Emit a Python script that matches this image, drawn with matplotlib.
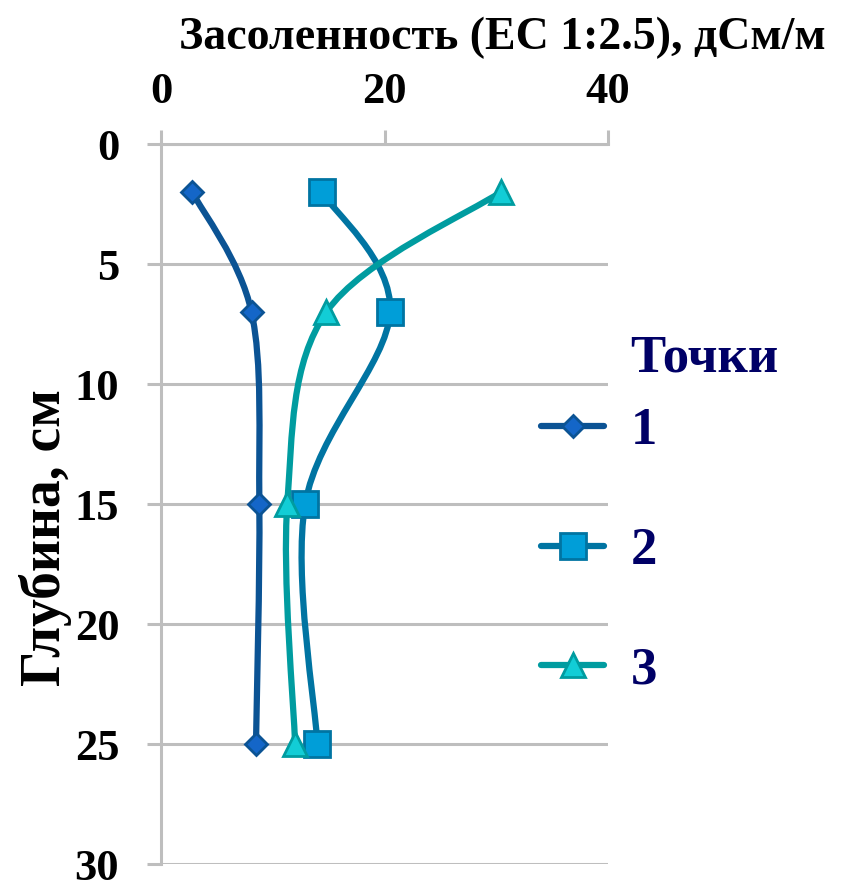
import numpy as np
import matplotlib
matplotlib.use("Agg")
import matplotlib.pyplot as plt
from matplotlib.path import Path
from matplotlib.patches import PathPatch
from matplotlib.lines import Line2D

# data
depth = [2, 7, 15, 25]
ec_1 = [2.8, 8.1, 8.8, 8.5]
ec_2 = [14.4, 20.5, 12.9, 14.0]
ec_3 = [30.4, 14.8, 11.3, 12.0]
labels = ["1", "2", "3"]

line_colors = ["#0B5394", "#0074A2", "#009CA0"]
face_colors = ["#1466C8", "#009ED8", "#12CDD6"]
markers = ["D", "s", "^"]
msizes = [11, 19, 17]

plt.rcParams['font.family'] = ['Liberation Serif', 'DejaVu Serif']
plt.rcParams['font.weight'] = 'bold'

grid_c = "#BEBEBE"
navy = "#000066"


def smooth_path(xs, ys):
    # excel-like smoothed line: cubic bezier through the points
    p = np.column_stack([xs, ys]).astype(float)
    n = len(p)
    verts = [p[0]]
    codes = [Path.MOVETO]
    for i in range(n - 1):
        p_prev = p[i - 1] if i > 0 else p[i]
        p_next = p[i + 2] if i + 2 < n else p[i + 1]
        c1 = p[i] + (p[i + 1] - p_prev) / 6.0
        c2 = p[i + 1] - (p_next - p[i]) / 6.0
        verts += [c1, c2, p[i + 1]]
        codes += [Path.CURVE4] * 3
    return Path(verts, codes)


fig = plt.figure(figsize=(8.54, 8.82), dpi=100)
ax = fig.add_axes([0.1885, 0.0204, 0.5235, 0.8163])

handles = []
for xs, lc, fc, mk, ms, lab in zip([ec_1, ec_2, ec_3], line_colors, face_colors, markers, msizes, labels):
    ax.add_patch(PathPatch(smooth_path(xs, depth), fill=False, edgecolor=lc, lw=4.5,
                           capstyle='round', zorder=3))
    ax.plot(xs, depth, linestyle='none', marker=mk, ms=ms, mfc=fc, mec=lc, mew=2, zorder=4)
    handles.append(Line2D([], [], color=lc, lw=4.5, solid_capstyle='round', marker=mk,
                          ms=ms, mfc=fc, mec=lc, mew=2, label=lab))

ax.set_xlim(0, 40)
ax.set_ylim(30, 0)
ax.set_xticks([0, 20, 40])
ax.set_yticks([0, 5, 10, 15, 20, 25, 30])
ax.xaxis.tick_top()

fig.text(0.588, 0.957, "Засоленность (EC 1:2.5), дСм/м", fontsize=33, fontweight='bold',
         ha='center', va='center')
fig.text(0.053, 0.391, "Глубина, см", fontsize=40, fontweight='bold', rotation=90,
         ha='center', va='center')

ax.yaxis.grid(True, color=grid_c, lw=2.2)
ax.set_axisbelow(True)
for s in ['right', 'bottom']:
    ax.spines[s].set_visible(False)
for s in ['top', 'left']:
    ax.spines[s].set_color(grid_c)
    ax.spines[s].set_linewidth(2.2)
ax.tick_params(axis='both', colors=grid_c, width=2.2, length=10, labelsize=32,
               labelcolor='black')
ax.tick_params(axis='x', pad=13)
ax.tick_params(axis='y', pad=20)

leg = fig.legend(handles=handles, loc='center left', bbox_to_anchor=(0.6335, 0.3753),
                 frameon=False, fontsize=38, handlelength=1.2, labelspacing=1.36,
                 handletextpad=0.5, borderpad=0, borderaxespad=0)
for t in leg.get_texts():
    t.set_color(navy)
fig.text(0.7377, 0.594, "Точки", fontsize=38, fontweight='bold', color=navy,
         ha='left', va='center')

fig.savefig("out.png", dpi=100)
